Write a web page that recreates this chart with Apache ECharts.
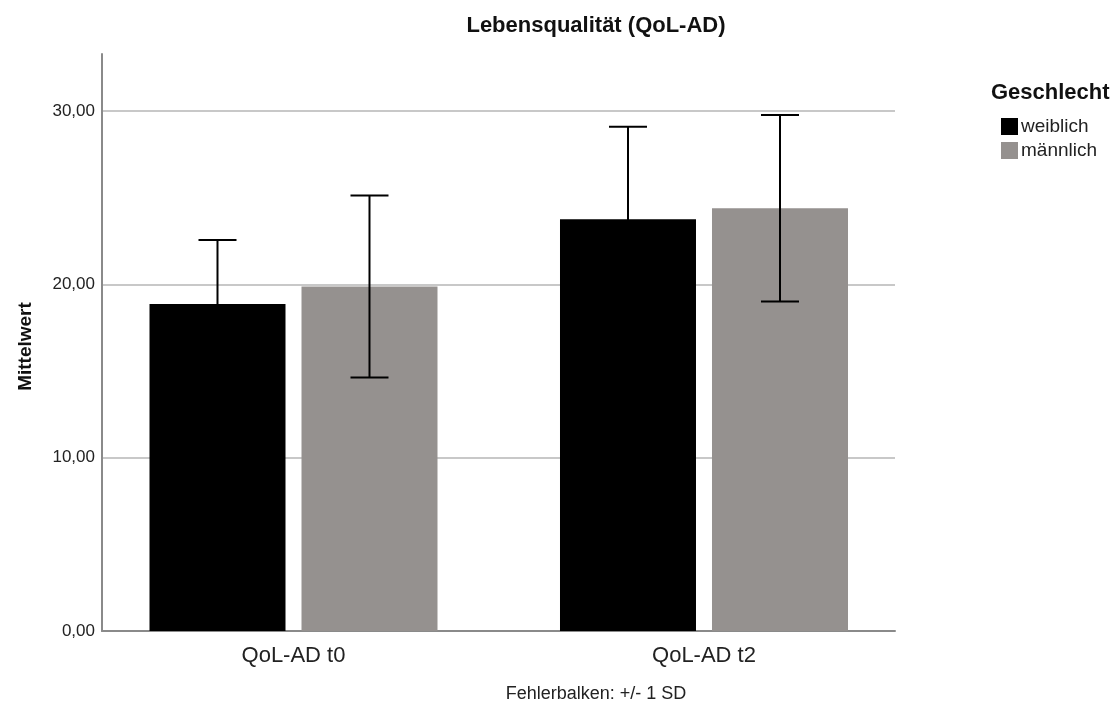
<!DOCTYPE html>
<html>
<head>
<meta charset="utf-8">
<title>Lebensqualität (QoL-AD)</title>
<script src="https://cdn.jsdelivr.net/npm/echarts@6/dist/echarts.min.js"></script>
<style>
  html, body { margin: 0; padding: 0; background: #ffffff; }
  #chart { width: 1116px; height: 705px; }
</style>
</head>
<body>
<div id="chart"></div>
<script>
// Messzeitpunkte (Kategorien)
const categories = ['QoL-AD t0', 'QoL-AD t2'];
// Mittelwerte und Standardabweichungen je Geschlecht
const meanWeiblich = [18.87, 23.77];
const sdWeiblich = [3.69, 5.33];
const meanMaennlich = [19.88, 24.40];
const sdMaennlich = [5.25, 5.38];
// Beschriftete Werte der y-Achse
const yTicks = [0, 10, 20, 30];

const FONT = '"Liberation Sans", Arial, sans-serif';
const BAR_WIDTH = 136;
const CAP_WIDTH = 38;

function fmt(v) {
  return v.toFixed(2).replace('.', ',');
}

// Balken mit Fehlerbalken (+/- 1 SD) als eigene Serie zeichnen
function makeRenderer(offset, color) {
  return function (params, api) {
    const idx = api.value(0);
    const mean = api.value(1);
    const sd = api.value(2);
    const base = api.coord([idx, 0]);
    const top = api.coord([idx, mean]);
    const hi = api.coord([idx, mean + sd]);
    const lo = api.coord([idx, mean - sd]);
    const cx = base[0] + offset;
    const errStyle = { stroke: '#000000', lineWidth: 2 };
    return {
      type: 'group',
      children: [
        {
          type: 'rect',
          shape: { x: cx - BAR_WIDTH / 2, y: top[1], width: BAR_WIDTH, height: base[1] - top[1] },
          style: { fill: color }
        },
        { type: 'line', shape: { x1: cx, y1: hi[1], x2: cx, y2: lo[1] }, style: errStyle },
        { type: 'line', shape: { x1: cx - CAP_WIDTH / 2, y1: hi[1], x2: cx + CAP_WIDTH / 2, y2: hi[1] }, style: errStyle },
        { type: 'line', shape: { x1: cx - CAP_WIDTH / 2, y1: lo[1], x2: cx + CAP_WIDTH / 2, y2: lo[1] }, style: errStyle }
      ]
    };
  };
}

function buildData(means, sds) {
  return means.map((m, i) => [i, m, sds[i]]);
}

const chart = echarts.init(document.getElementById('chart'), null, { renderer: 'canvas' });

chart.setOption({
  animation: false,
  backgroundColor: '#ffffff',
  textStyle: { fontFamily: FONT },
  title: [
    {
      text: 'Lebensqualität (QoL-AD)',
      left: 591, top: 10, textAlign: 'center',
      textStyle: { fontFamily: FONT, fontSize: 22, fontWeight: 'bold', color: '#111111' }
    },
    {
      text: 'Geschlecht',
      left: 986, top: 77,
      textStyle: { fontFamily: FONT, fontSize: 22, fontWeight: 'bold', color: '#111111' }
    },
    {
      text: 'Fehlerbalken: +/- 1 SD',
      left: 591, top: 680, textAlign: 'center',
      textStyle: { fontFamily: FONT, fontSize: 18, fontWeight: 'normal', color: '#222222' }
    }
  ],
  legend: {
    orient: 'vertical',
    left: 996, top: 112,
    itemWidth: 17, itemHeight: 17, itemGap: 5,
    icon: 'rect',
    textStyle: { fontFamily: FONT, fontSize: 19, color: '#222222', padding: [0, 0, 0, -2] },
    data: ['weiblich', 'männlich']
  },
  grid: { left: 102, right: 221, top: 54, bottom: 74, containLabel: false },
  xAxis: {
    type: 'value',
    min: -0.4665,
    max: 1.4653,
    splitLine: { show: false },
    axisTick: { show: false },
    axisLine: { show: true, onZero: false, lineStyle: { color: '#8a8a8a', width: 2 } },
    axisLabel: {
      customValues: categories.map((c, i) => i),
      formatter: (v) => categories[Math.round(v)] || '',
      margin: 14,
      fontFamily: FONT, fontSize: 22, color: '#222222'
    }
  },
  yAxis: {
    type: 'value',
    min: 0,
    max: 33.3,
    interval: 10,
    name: 'Mittelwert',
    nameLocation: 'middle',
    nameGap: 67,
    nameTextStyle: { fontFamily: FONT, fontSize: 19, fontWeight: 'bold', color: '#111111', padding: [0, 0, 0, -8] },
    axisLine: { show: true, onZero: false, lineStyle: { color: '#8a8a8a', width: 2 } },
    axisTick: { show: false },
    axisLabel: {
      showMaxLabel: false,
      margin: 7,
      fontFamily: FONT, fontSize: 17, color: '#222222',
      formatter: (v) => (yTicks.includes(v) ? fmt(v) : '')
    },
    splitLine: {
      show: true,
      showMinLine: false,
      showMaxLine: false,
      lineStyle: { color: '#c8c8c8', width: 2 }
    }
  },
  series: [
    {
      name: 'weiblich',
      type: 'custom',
      itemStyle: { color: '#000000' },
      encode: { x: 0, y: 1 },
      renderItem: makeRenderer(-76, '#000000'),
      data: buildData(meanWeiblich, sdWeiblich)
    },
    {
      name: 'männlich',
      type: 'custom',
      itemStyle: { color: '#95918f' },
      encode: { x: 0, y: 1 },
      renderItem: makeRenderer(76, '#95918f'),
      data: buildData(meanMaennlich, sdMaennlich)
    }
  ]
});
</script>
</body>
</html>
